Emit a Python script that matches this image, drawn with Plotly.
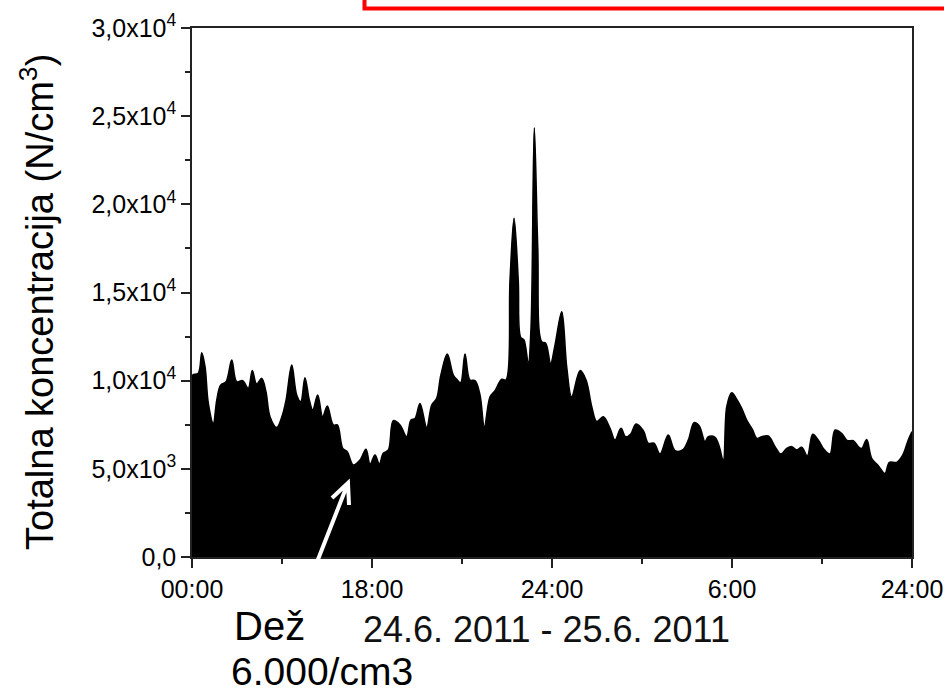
import plotly.graph_objects as go

# ---- data (hours from start of 24.6.2011, concentration N/cm3) ----
hours = [0.0, 0.05, 0.42, 0.65, 0.87, 1.09, 1.42, 1.65, 1.91, 2.27, 2.65, 2.98, 3.38, 3.75,
         4.02, 4.31, 4.65, 4.93, 5.2, 5.65, 5.98, 6.27, 6.65, 6.98, 7.25, 7.53, 7.82, 8.05,
         8.38, 8.71, 9.02, 9.42, 9.69, 10.05, 10.35, 10.75, 11.2, 11.6, 11.87, 12.2, 12.49,
         12.75, 13.09, 13.42, 13.87, 14.31, 14.6, 14.87, 15.2, 15.65, 15.98, 16.31, 16.58,
         17.02, 17.42, 17.69, 17.91, 18.2, 18.53, 18.87, 19.2, 19.49, 19.87, 20.2, 20.65,
         20.93, 21.2, 21.47, 21.75, 21.91, 22.13, 22.42, 22.6, 22.82, 23.05, 23.31, 23.58,
         23.91, 24.2, 24.65, 24.98, 25.31, 25.87, 26.27, 26.65, 26.98, 27.42, 27.87, 28.2,
         28.6, 28.91, 29.25, 29.6, 30.09, 30.42, 30.8, 31.2, 31.75, 32.2, 32.71, 33.09,
         33.47, 33.82, 34.2, 34.42, 34.87, 35.15, 35.42, 35.65, 35.98, 36.35, 36.65, 36.98,
         37.38, 37.65, 37.98, 38.42, 38.87, 39.25, 39.65, 39.98, 40.31, 40.65, 41.02, 41.38,
         41.75, 42.13, 42.53, 42.87, 43.31, 43.69, 44.09, 44.42, 44.65, 44.98, 45.31, 45.75,
         46.2, 46.49, 46.98, 47.38, 47.75, 48.0]
conc = [10100, 10320, 10420, 11590, 10790, 8710, 7580, 8900, 9750, 9940, 11170, 9940, 10000, 9570,
        10570, 9810, 10130, 9380, 7960, 7350, 7920, 8900, 10890, 9190, 8810, 10170, 8900, 8340,
        9190, 7960, 8560, 7490, 7490, 6160, 5970, 5220, 5500, 6110, 5270, 5780, 5270,
        5880, 6070, 7730, 7490, 6820, 7770, 7860, 8710, 7350, 8620, 9000, 10270,
        11510, 10320, 10040, 9890, 11510, 10040, 10000, 9190, 7390, 9090, 9430, 10080,
        10040, 15710, 19210, 15710, 12460, 12310, 10980, 13000, 24350, 17600, 12210, 12120,
        10980, 12020, 13910, 10790, 9090, 10570, 10040, 8530, 7680, 7960, 7300, 6640,
        7300, 6820, 6980, 7540, 7160, 6450, 6450, 5840, 6920, 6030, 6070, 6640,
        7620, 7430, 6540, 6820, 6790, 6260, 5460, 8530, 9320, 8900, 8430, 7770,
        7200, 6730, 6820, 6860, 6260, 5840, 6160, 6260, 6070, 6220, 5730, 6960,
        6640, 6110, 5840, 7200, 7010, 6600, 6600, 6260, 6160, 6670, 5600, 5180,
        4740, 5370, 5370, 5780, 6640, 7110]

x_tickvals = [0, 12, 24, 36, 48]
x_ticktext = ["00:00", "18:00", "24:00", "6:00", "24:00"]
x_minor = [6, 18, 30, 42]
y_tickvals = [0, 5000, 10000, 15000, 20000, 25000, 30000]
y_ticktext = ["0,0", "5,0x10<sup>3</sup>", "1,0x10<sup>4</sup>", "1,5x10<sup>4</sup>",
              "2,0x10<sup>4</sup>", "2,5x10<sup>4</sup>", "3,0x10<sup>4</sup>"]
y_minor = [2500, 7500, 12500, 17500, 22500, 27500]

FONT = "Liberation Sans, Arial, sans-serif"

# plot-area geometry (pixels) used only to place decorations
L, R, T, B = 192, 912, 28, 557
def px(p):
    return (p - L) / (R - L)
def py(p):
    return (B - p) / (B - T)

fig = go.Figure()
fig.add_trace(go.Scatter(
    x=hours, y=conc, mode="lines",
    line=dict(color="black", width=1.5, shape="spline", smoothing=1.0),
    fill="tozeroy", fillcolor="black", hoverinfo="skip", showlegend=False))

axis_common = dict(showline=True, linecolor="#222", linewidth=1.5, mirror=True,
                   ticks="outside", tickcolor="#222", tickwidth=1.5, ticklen=9,
                   showgrid=False, zeroline=False, automargin=False,
                   tickfont=dict(family=FONT, size=25, color="black"))

fig.update_xaxes(range=[0, 48], tickmode="array", tickvals=x_tickvals, ticktext=x_ticktext,
                 minor=dict(tickmode="array", tickvals=x_minor, ticks="outside", ticklen=5,
                            tickcolor="#222", tickwidth=1.5),
                 **axis_common)
fig.update_yaxes(range=[0, 30000], tickmode="array", tickvals=y_tickvals, ticktext=y_ticktext,
                 minor=dict(tickmode="array", tickvals=y_minor, ticks="outside", ticklen=5,
                            tickcolor="#222", tickwidth=1.5),
                 **axis_common)

shapes = []
# red frame at the top (partially off-canvas)
shapes.append(dict(type="rect", xref="paper", yref="paper",
                   x0=px(364.5), x1=px(960), y0=py(8.5), y1=py(-30),
                   line=dict(color="#ff0000", width=4), fillcolor="rgba(0,0,0,0)"))
# white arrow pointing at the rain minimum
arrow_path = "M {} {} L {} {} M {} {} L {} {} L {} {}".format(
    px(317), py(562), px(348), py(483),
    px(332), py(498), px(348), py(483), px(349), py(505))
shapes.append(dict(type="path", xref="paper", yref="paper", path=arrow_path,
                   line=dict(color="white", width=4)))

annotations = [
    dict(text="Totalna koncentracija (N/cm<sup>3</sup>)", xref="paper", yref="paper",
         x=px(37), y=py(302), xanchor="center", yanchor="middle", textangle=-90,
         showarrow=False, font=dict(family=FONT, size=38, color="black")),
    dict(text="Dež", xref="paper", yref="paper", x=px(232), y=py(626),
         xanchor="left", yanchor="middle", showarrow=False,
         font=dict(family=FONT, size=40, color="black")),
    dict(text="6.000/cm3", xref="paper", yref="paper", x=px(230), y=py(694),
         xanchor="left", yanchor="bottom", showarrow=False, borderpad=0,
         font=dict(family=FONT, size=39, color="black")),
    dict(text="24.6. 2011 - 25.6. 2011", xref="paper", yref="paper", x=px(361), y=py(629),
         xanchor="left", yanchor="middle", showarrow=False,
         font=dict(family=FONT, size=36, color="#111")),
]

fig.update_layout(width=944, height=694, autosize=False,
                  margin=dict(l=L, r=944 - R, t=T, b=694 - B, pad=0),
                  paper_bgcolor="white", plot_bgcolor="white",
                  shapes=shapes, annotations=annotations, showlegend=False)

fig.write_html("out.html")
